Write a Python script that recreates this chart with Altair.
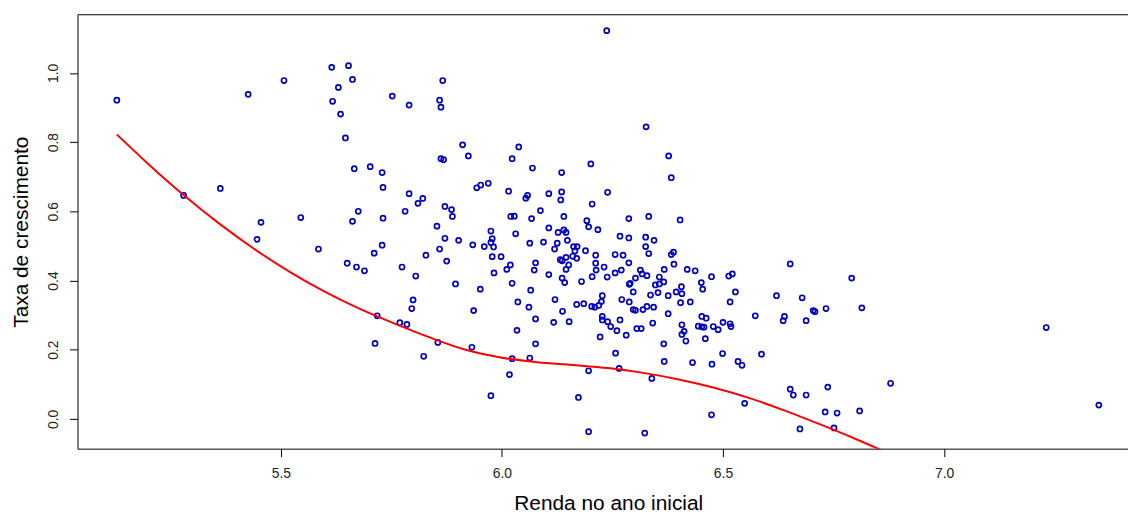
import altair as alt
import pandas as pd

# Scatter data
renda = [
    5.129, 5.280, 5.363, 5.426, 5.446, 5.455, 5.507, 5.545, 5.585, 5.615,
    5.617, 5.630, 5.635, 5.646, 5.650, 5.653, 5.662, 5.662, 5.666, 5.675,
    5.671, 5.689, 5.702, 5.711, 5.713, 5.718, 5.729, 5.731, 5.731, 5.729,
    5.752, 5.769, 5.774, 5.781, 5.785, 5.790, 5.790, 5.796, 5.799, 5.805,
    5.810, 5.821, 5.823, 5.828, 5.853, 5.855, 5.859, 5.862, 5.866, 5.859,
    5.862, 5.868, 5.871, 5.871, 5.875, 5.886, 5.888, 5.895, 5.911, 5.924,
    6.038, 6.023, 6.069, 6.135, 6.201, 6.377, 6.383, 5.943, 5.952, 5.969,
    6.015, 6.054, 6.058, 6.106, 6.135, 6.133, 6.239, 6.204, 6.087, 6.020,
    6.028, 6.067, 6.140, 6.192, 6.196, 6.217, 6.287, 6.332, 6.403, 6.106,
    5.975, 6.031, 6.127, 6.140, 6.145, 5.902, 5.934, 5.960, 5.978, 5.975,
    5.981, 6.063, 6.094, 6.125, 6.148, 6.119, 6.162, 6.170, 6.165, 6.189,
    6.267, 6.287, 6.325, 6.344, 6.325, 6.332, 6.383, 6.388, 5.978, 5.998,
    6.145, 6.132, 6.136, 6.160, 6.169, 6.212, 6.256, 6.274, 6.076, 6.019,
    6.011, 6.073, 6.151, 6.145, 6.212, 6.231, 6.287, 6.367, 6.389, 6.419,
    6.437, 6.474, 5.982, 6.106, 6.136, 6.204, 6.238, 6.256, 6.270, 6.213,
    6.313, 6.317, 6.328, 6.356, 6.302, 6.513, 6.521, 5.951, 6.023, 6.065,
    6.036, 6.061, 5.936, 6.076, 6.034, 6.120, 6.137, 6.117, 6.152, 6.142,
    6.180, 6.169, 6.185, 6.203, 6.210, 6.219, 6.227, 6.225, 6.227, 6.227,
    6.239, 6.246, 6.260, 6.222, 6.267, 6.271, 6.288, 6.297, 6.302, 6.288,
    6.290, 6.297, 6.319, 6.328, 6.343, 6.336, 6.341, 6.305, 6.315, 6.281,
    6.353, 6.347, 6.356, 6.366, 6.376, 6.376, 6.394, 6.404, 6.407, 6.406,
    6.426, 6.407, 6.412, 6.407, 6.416, 6.451, 6.454, 6.452, 6.462, 6.444,
    6.452, 6.457, 6.478, 6.489, 6.460, 6.500, 6.516, 6.518, 6.528, 6.516,
    6.573, 5.932, 6.076, 6.023, 6.063, 6.017, 5.975, 6.257, 6.196, 6.265,
    6.173, 6.196, 6.323, 6.339, 6.366, 6.367, 6.431, 6.475, 6.499, 6.534,
    6.543, 6.587, 6.549, 6.474, 6.326, 6.237, 6.621, 6.639, 6.636, 6.652,
    6.652, 6.659, 6.674, 6.679, 6.688, 6.688, 6.704, 6.708, 6.733, 6.737,
    6.731, 6.751, 6.758, 6.791, 6.814, 6.809, 6.879, 7.231, 7.350,
]
taxa = [
    0.921, 0.646, 0.666, 0.938, 0.519, 0.568, 0.978, 0.582, 0.491, 1.016,
    0.918, 0.958, 0.881, 0.812, 0.450, 1.021, 0.981, 0.571, 0.723, 0.600,
    0.439, 0.428, 0.729, 0.479, 0.218, 0.298, 0.712, 0.669, 0.580, 0.502,
    0.933, 0.278, 0.439, 0.600, 0.273, 0.907, 0.651, 0.319, 0.344, 0.413,
    0.623, 0.637, 0.181, 0.473, 0.557, 0.221, 0.491, 0.752, 0.978, 0.921,
    0.901, 0.749, 0.614, 0.522, 0.456, 0.605, 0.585, 0.390, 0.792, 0.760,
    0.786, 0.752, 0.725, 0.712, 0.737, 0.760, 0.697, 0.668, 0.676, 0.681,
    0.658, 0.638, 0.646, 0.651, 0.656, 0.633, 0.655, 0.621, 0.602, 0.585,
    0.586, 0.579, 0.585, 0.573, 0.555, 0.547, 0.579, 0.585, 0.575, 0.552,
    0.543, 0.535, 0.539, 0.546, 0.539, 0.516, 0.503, 0.498, 0.521, 0.510,
    0.497, 0.508, 0.511, 0.508, 0.516, 0.491, 0.498, 0.498, 0.485, 0.486,
    0.528, 0.523, 0.525, 0.516, 0.498, 0.478, 0.475, 0.482, 0.469, 0.469,
    0.467, 0.460, 0.457, 0.470, 0.464, 0.473, 0.475, 0.473, 0.451, 0.445,
    0.432, 0.430, 0.445, 0.432, 0.450, 0.439, 0.451, 0.432, 0.447, 0.432,
    0.428, 0.411, 0.422, 0.417, 0.407, 0.411, 0.410, 0.422, 0.430, 0.430,
    0.430, 0.419, 0.414, 0.410, 0.407, 0.413, 0.419, 0.375, 0.392, 0.372,
    0.338, 0.323, 0.313, 0.289, 0.256, 0.345, 0.311, 0.279, 0.281, 0.394,
    0.397, 0.331, 0.333, 0.325, 0.323, 0.328, 0.356, 0.339, 0.296, 0.286,
    0.281, 0.267, 0.255, 0.237, 0.286, 0.345, 0.338, 0.316, 0.314, 0.389,
    0.392, 0.367, 0.316, 0.325, 0.323, 0.358, 0.277, 0.261, 0.261, 0.242,
    0.365, 0.387, 0.390, 0.396, 0.356, 0.304, 0.367, 0.336, 0.362, 0.382,
    0.338, 0.272, 0.253, 0.244, 0.225, 0.394, 0.375, 0.296, 0.291, 0.268,
    0.266, 0.265, 0.267, 0.258, 0.232, 0.279, 0.275, 0.267, 0.367, 0.338,
    0.298, 0.207, 0.217, 0.174, 0.176, 0.128, 0.067, 0.190, 0.139, 0.146,
    0.062, -0.037, -0.041, 0.117, 0.217, 0.166, 0.163, 0.158, 0.189, 0.166,
    0.155, 0.187, 0.045, 0.012, 0.844, 1.122, 0.356, 0.296, 0.284, 0.448,
    0.086, 0.069, -0.029, 0.350, 0.284, 0.069, 0.313, 0.310, 0.319, 0.092,
    0.020, -0.026, 0.017, 0.407, 0.321, 0.023, 0.103, 0.264, 0.040,
]

# Red curve
curva_x = [5.129, 5.200, 5.280, 5.360, 5.440, 5.520, 5.600, 5.680, 5.760,
           5.840, 5.920, 6.000, 6.080, 6.160, 6.240, 6.320, 6.400, 6.480,
           6.560, 6.640, 6.720, 6.800, 6.870]
curva_y = [0.822, 0.737, 0.647, 0.565, 0.491, 0.425, 0.367, 0.317, 0.274,
           0.234, 0.199, 0.177, 0.164, 0.156, 0.147, 0.133, 0.114, 0.090,
           0.060, 0.024, -0.016, -0.058, -0.097]

x_ticks = [5.5, 6.0, 6.5, 7.0]
y_ticks = [0.0, 0.2, 0.4, 0.6, 0.8, 1.0]
x_title = "Renda no ano inicial"
y_title = "Taxa de crescimento"

pts = pd.DataFrame({"renda": renda, "taxa": taxa})
cur = pd.DataFrame({"renda": curva_x, "taxa": curva_y})

W, H = 1058, 437
FONT = "Liberation Sans"

xs = alt.Scale(domain=[5.040, 7.416], nice=False, zero=False)
ys = alt.Scale(domain=[-0.086, 1.168], nice=False, zero=False)

xaxis = alt.Axis(
    values=x_ticks, format=".1f", title=x_title, grid=False,
    domainColor="black", domainWidth=1, tickColor="black", tickSize=8, tickWidth=1,
    labelFont=FONT, labelFontSize=14, labelColor="#222222", labelPadding=10,
    labelBaseline="top",
    titleFont=FONT, titleFontSize=21, titleFontWeight="normal", titleColor="black",
    titleX=534.5, titleY=61, titleAlign="center", titleBaseline="alphabetic",
)
yaxis = alt.Axis(
    values=y_ticks, format=".1f", title=y_title, grid=False,
    domainColor="black", domainWidth=1, tickColor="black", tickSize=8, tickWidth=1,
    labelFont=FONT, labelFontSize=14, labelColor="#222222", labelPadding=9,
    labelAngle=270, labelAlign="center", labelBaseline="bottom",
    titleFont=FONT, titleFontSize=21, titleFontWeight="normal", titleColor="black",
    titleAngle=270, titleX=-56, titleY=218.5, titleAlign="center", titleBaseline="middle",
)

points = alt.Chart(pts).mark_point(
    shape="circle", filled=False, size=26, strokeWidth=1.7, color="#0000C0",
    opacity=1, clip=True,
).encode(
    x=alt.X("renda:Q", scale=xs, axis=xaxis),
    y=alt.Y("taxa:Q", scale=ys, axis=yaxis),
)

curve = alt.Chart(cur).mark_line(
    color="#FF0000", strokeWidth=2, clip=True, interpolate="monotone"
).encode(
    x=alt.X("renda:Q", scale=xs),
    y=alt.Y("taxa:Q", scale=ys),
)

top = alt.Chart(pd.DataFrame({"k": [0]})).mark_rule(color="black", strokeWidth=1).encode(
    x=alt.value(0), x2=alt.value(W), y=alt.value(0)
)

chart = alt.layer(points, curve, top).properties(
    width=W, height=H,
    autosize=alt.AutoSizeParams(type="none"),
    padding={"left": 70, "top": 5, "right": 0, "bottom": 65},
    background="white",
).configure_view(stroke=None)

chart.save("out.html", embed_options={"renderer": "svg", "actions": False})
